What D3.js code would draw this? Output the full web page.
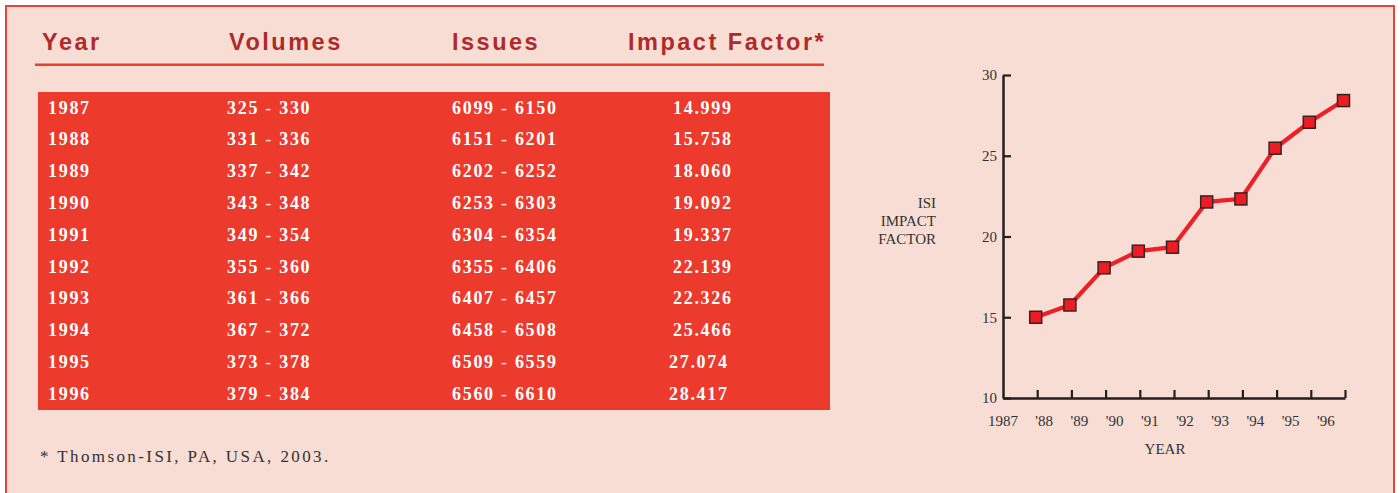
<!DOCTYPE html>
<html>
<head>
<meta charset="utf-8">
<script src="https://cdn.jsdelivr.net/npm/d3@7"></script>
<style>
  body { margin: 0; background: #fff; }
  svg { display: block; }
</style>
</head>
<body>
<div id="chart"></div>
<script>
const years = [1987, 1988, 1989, 1990, 1991, 1992, 1993, 1994, 1995, 1996];
const volumes = ["325 - 330", "331 - 336", "337 - 342", "343 - 348", "349 - 354",
                 "355 - 360", "361 - 366", "367 - 372", "373 - 378", "379 - 384"];
const issues = ["6099 - 6150", "6151 - 6201", "6202 - 6252", "6253 - 6303", "6304 - 6354",
                "6355 - 6406", "6407 - 6457", "6458 - 6508", "6509 - 6559", "6560 - 6610"];
const impactFactor = [14.999, 15.758, 18.060, 19.092, 19.337, 22.139, 22.326, 25.466, 27.074, 28.417];
const headers = ["Year", "Volumes", "Issues", "Impact Factor*"];
const yTicks = [10, 15, 20, 25, 30];
const xTickLabels = ["1987", "'88", "'89", "'90", "'91", "'92", "'93", "'94", "'95", "'96"];

function init() {
  const W = 1400, H = 493;
  const serif = "'Liberation Serif', 'Times New Roman', serif";
  const sans = "'Liberation Sans', Arial, sans-serif";

  const svg = d3.select("#chart").append("svg")
      .attr("width", W)
      .attr("height", H);

  // panel background + border (bottom edge runs off the picture)
  svg.append("rect")
      .attr("x", 6).attr("y", 6)
      .attr("width", 1388).attr("height", 520)
      .attr("fill", "#f7ddd3")
      .attr("stroke", "#ec4434")
      .attr("stroke-width", 2);

  // ---- table ----
  const colX = [48, 227, 452, 673];
  const headX = [42, 229, 452, 628];

  svg.selectAll(".head")
      .data(headers)
      .enter().append("text")
      .attr("class", "head")
      .attr("x", (d, i) => headX[i])
      .attr("y", 50)
      .attr("font-family", sans)
      .attr("font-weight", "bold")
      .attr("font-size", "23.5px")
      .attr("letter-spacing", "2.5px")
      .attr("fill", "#b02a2b")
      .text(d => d);

  svg.append("line")
      .attr("x1", 35).attr("x2", 824)
      .attr("y1", 64.7).attr("y2", 64.7)
      .attr("stroke", "#e8402f")
      .attr("stroke-width", 2.6);

  const row = d3.scaleBand()
      .domain(years)
      .range([92, 410]);

  svg.append("rect")
      .attr("x", 38).attr("y", row.range()[0])
      .attr("width", 792).attr("height", row.range()[1] - row.range()[0])
      .attr("fill", "#ec3b2d");

  const rows = svg.selectAll(".row")
      .data(years.map((y, i) => ({ year: y, vol: volumes[i], iss: issues[i], imp: impactFactor[i] })))
      .enter().append("g")
      .attr("class", "row")
      .attr("transform", d => "translate(0," + (row(d.year) + 21.5) + ")")
      .attr("font-family", serif)
      .attr("font-weight", "bold")
      .attr("font-size", "18px")
      .attr("letter-spacing", "1.7px")
      .attr("fill", "#fff");

  function rangeText(sel, key) {
    sel.each(function (d) {
      const parts = d[key].split(" - ");
      const t = d3.select(this);
      t.append("tspan").text(parts[0]);
      t.append("tspan").attr("font-weight", "normal").attr("fill-opacity", 0.85).text(" - ");
      t.append("tspan").text(parts[1]);
    });
  }

  rows.append("text").attr("x", colX[0]).text(d => d.year);
  rows.append("text").attr("x", colX[1]).call(rangeText, "vol");
  rows.append("text").attr("x", colX[2]).call(rangeText, "iss");
  rows.append("text")
      .attr("x", d => d.year >= 1995 ? colX[3] - 4 : colX[3])
      .text(d => d3.format(".3f")(d.imp));

  svg.append("text")
      .attr("x", 40).attr("y", 462)
      .attr("font-family", serif)
      .attr("font-size", "17px")
      .attr("letter-spacing", "2.4px")
      .attr("fill", "#333")
      .text("* Thomson-ISI, PA, USA, 2003.");

  // ---- line chart ----
  const x = d3.scaleLinear().domain([1987, 1997]).range([1003, 1345]);
  const y = d3.scaleLinear().domain([10, 30]).range([398, 75]);
  const axisColor = "#231f20";

  const gx = svg.append("g")
      .attr("transform", "translate(0," + y(10) + ")")
      .call(d3.axisBottom(x)
          .tickValues(d3.range(1988, 1998))
          .tickSizeInner(-8)
          .tickSizeOuter(0)
          .tickFormat(""));

  const gy = svg.append("g")
      .attr("transform", "translate(" + x(1987) + ",0)")
      .call(d3.axisLeft(y)
          .tickValues(yTicks)
          .tickSizeInner(-8)
          .tickSizeOuter(0)
          .tickPadding(6));

  [gx, gy].forEach(g => {
    g.select(".domain").attr("stroke", axisColor).attr("stroke-width", 2.5);
    g.selectAll(".tick line").attr("stroke", axisColor).attr("stroke-width", 2.2);
  });
  gy.selectAll(".tick text")
      .attr("font-family", serif)
      .attr("font-size", "15px")
      .attr("fill", "#333");

  // year labels drift a little wider than the ticks in the original
  const labelX = d3.scaleLinear().domain([1988, 1996]).range([x(1988) + 7, x(1996) + 15]);
  svg.selectAll(".xlab")
      .data(xTickLabels)
      .enter().append("text")
      .attr("class", "xlab")
      .attr("x", (d, i) => i === 0 ? x(1987) : labelX(1987 + i))
      .attr("y", 426)
      .attr("text-anchor", "middle")
      .attr("font-family", serif)
      .attr("font-size", "15px")
      .attr("fill", "#333")
      .text(d => d);

  svg.append("text")
      .attr("x", 1165).attr("y", 454)
      .attr("text-anchor", "middle")
      .attr("font-family", serif)
      .attr("font-size", "15px")
      .attr("fill", "#333")
      .text("YEAR");

  svg.append("text")
      .attr("text-anchor", "end")
      .attr("font-family", serif)
      .attr("font-size", "15px")
      .attr("fill", "#333")
      .selectAll("tspan")
      .data(["ISI", "IMPACT", "FACTOR"])
      .enter().append("tspan")
      .attr("x", 936)
      .attr("y", (d, i) => 208 + i * 18)
      .text(d => d);

  // each year's value is plotted at the closing tick of that year
  const pts = years.map((yr, i) => ({ t: yr + 1, v: impactFactor[i] }));

  svg.append("path")
      .datum(pts)
      .attr("fill", "none")
      .attr("stroke", "#ee1f26")
      .attr("stroke-width", 4.2)
      .attr("stroke-linejoin", "round")
      .attr("d", d3.line().x(d => x(d.t) - 1.5).y(d => y(d.v)));

  const s = 12;
  svg.selectAll(".pt")
      .data(pts)
      .enter().append("rect")
      .attr("class", "pt")
      .attr("x", d => x(d.t) - 1.5 - s / 2)
      .attr("y", d => y(d.v) - s / 2)
      .attr("width", s).attr("height", s)
      .attr("fill", "#ed1c24")
      .attr("stroke", "#3b2222")
      .attr("stroke-width", 1.5);
}

window.onload = init;
</script>
</body>
</html>
